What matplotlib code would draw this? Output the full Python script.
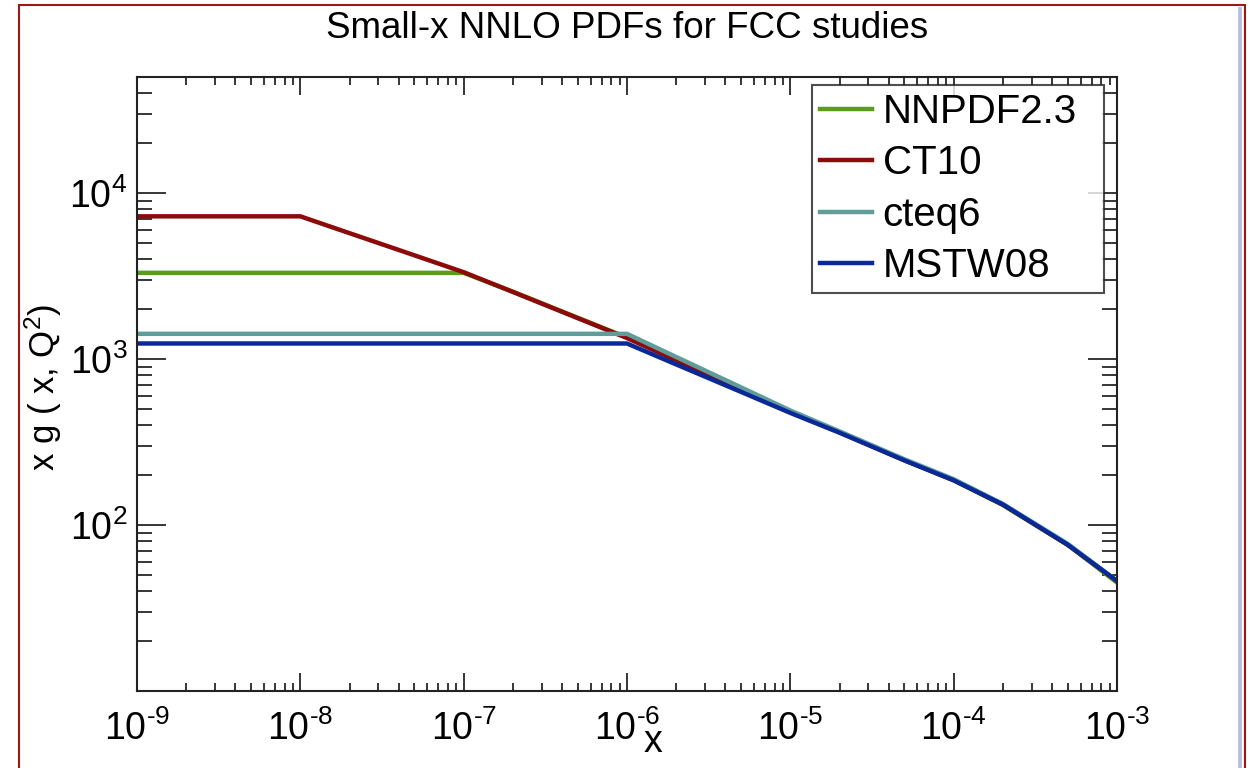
import numpy as np
import matplotlib
matplotlib.use("Agg")
import matplotlib.pyplot as plt
from matplotlib.patches import Rectangle
from matplotlib.ticker import LogLocator, FuncFormatter, NullFormatter

plt.rcParams["font.family"] = ["Liberation Sans", "DejaVu Sans"]
plt.rcParams["mathtext.fontset"] = "custom"
plt.rcParams["mathtext.rm"] = "Liberation Sans"
plt.rcParams["mathtext.it"] = "Liberation Sans:italic"

# gluon at small x, frozen below the lowest fitted x of each set
x_vals = [1e-9, 1e-8, 2e-8, 5e-8, 1e-7, 2e-7, 5e-7, 1e-6, 2e-6, 5e-6,
          1e-5, 2e-5, 5e-5, 1e-4, 2e-4, 5e-4, 1e-3]
nnpdf23 = [3310, 3310, 3310, 3310, 3310, 2550, 1775, 1350, 990, 660,
           484, 364, 246, 186, 132, 76, 45]
ct10 = [7250, 7250, 5740, 4220, 3340, 2540, 1764, 1340, 984, 656,
        482, 363, 246, 187, 133, 76, 46]
cteq6 = [1420, 1420, 1420, 1420, 1420, 1420, 1420, 1420, 1030, 675,
         490, 367, 249, 189, 134, 77, 46]
mstw08 = [1242, 1242, 1242, 1242, 1242, 1242, 1242, 1242, 929, 634,
          474, 360, 245, 186, 133, 76, 46]

names = ["NNPDF2.3", "CT10", "cteq6", "MSTW08"]
colors = ["#5a9c1f", "#8c0a0a", "#5f9c9a", "#0a2896"]

fig = plt.figure(figsize=(12.58, 7.68), dpi=100)
ax = fig.add_axes([137 / 1258, 1 - 691 / 768, 980 / 1258, 614 / 768])

for vals, name, c in zip([nnpdf23, ct10, cteq6, mstw08], names, colors):
    ax.plot(x_vals, vals, color=c, lw=3.2, label=name)

ax.set_xscale("log")
ax.set_yscale("log")
ax.set_xlim(1e-9, 1e-3)
ax.set_ylim(10, 10 ** 4.7)


def powlabel(v, pos):
    e = int(round(np.log10(v)))
    if e == 1:
        return ""
    if e < 0:
        return r"$\mathregular{10^{\text{-}%d}}$" % (-e)
    return r"$\mathregular{10^{%d}}$" % e


ax.xaxis.set_major_locator(LogLocator(base=10, numticks=20))
ax.yaxis.set_major_locator(LogLocator(base=10, numticks=20))
ax.xaxis.set_minor_locator(LogLocator(base=10, subs=np.arange(2, 10), numticks=20))
ax.yaxis.set_minor_locator(LogLocator(base=10, subs=np.arange(2, 10), numticks=20))
ax.xaxis.set_major_formatter(FuncFormatter(powlabel))
ax.yaxis.set_major_formatter(FuncFormatter(powlabel))
ax.xaxis.set_minor_formatter(NullFormatter())
ax.yaxis.set_minor_formatter(NullFormatter())

ax.tick_params(axis="x", which="major", direction="in", length=13, width=1.1,
               top=True, bottom=True, labelsize=27, pad=14)
ax.tick_params(axis="x", which="minor", direction="in", length=6, width=1.1,
               top=True, bottom=True)
ax.tick_params(axis="y", which="major", direction="in", length=21, width=1.1,
               left=True, right=True, labelsize=27, pad=7)
ax.tick_params(axis="y", which="minor", direction="in", length=10.5, width=1.1,
               left=True, right=True)
for s in ax.spines.values():
    s.set_linewidth(1.5)
    s.set_color("#222222")

fig.text(627 / 1258, 1 - 28 / 768, "Small-x NNLO PDFs for FCC studies",
         ha="center", va="center", fontsize=26.5)
fig.text(653 / 1258, 1 - 742 / 768, "x", ha="center", va="center", fontsize=27)
fig.text(43 / 1258, 1 - 387 / 768, r"x g ( x, Q$^{2}$)", ha="center", va="center",
         rotation=90, fontsize=25)

# legend box stretched to a fixed width, entries sit on its left side
leg = ax.legend(loc="upper left", bbox_to_anchor=(0.6888, 0.5, 0.2979, 0.487),
                mode="expand", fontsize=29, frameon=True, fancybox=False,
                handlelength=1.3, handletextpad=0.25, borderpad=0.2,
                labelspacing=0.33, borderaxespad=0)
leg.get_frame().set_edgecolor("#222222")
leg.get_frame().set_linewidth(1.5)
for h in leg.get_lines():
    h.set_linewidth(3.2)

# canvas border
fig.patches.append(Rectangle((19 / 1258, -0.01), 1226 / 1258, 1.01 - 5 / 768,
                             transform=fig.transFigure, fill=False,
                             edgecolor="#a01515", lw=1.5))
fig.patches.append(Rectangle((1239 / 1258, -0.01), 0.001, 1.01 - 8 / 768,
                             transform=fig.transFigure, fill=False,
                             edgecolor="#b8bce0", lw=2))

fig.savefig("out.png", dpi=100)
